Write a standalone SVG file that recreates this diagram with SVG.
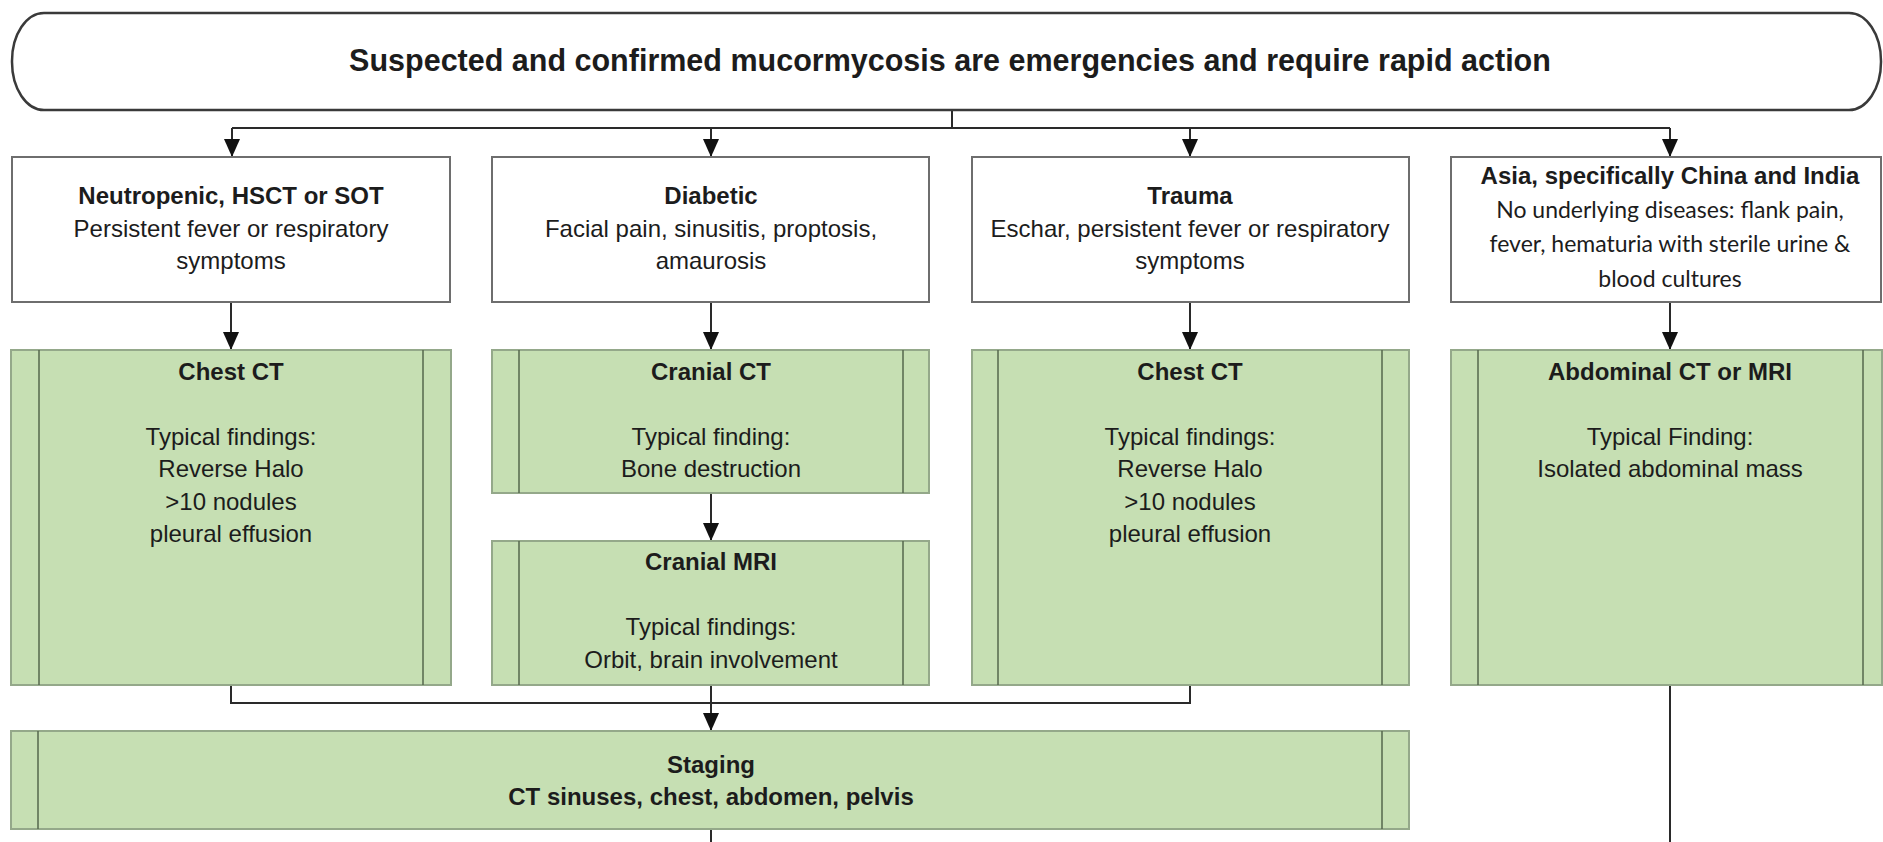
<svg xmlns="http://www.w3.org/2000/svg" width="1883" height="842" viewBox="0 0 1883 842">
<defs>
<style>
.bg{fill:#ffffff}
.term{fill:#ffffff;stroke:#3a3a3a;stroke-width:2.5}
.wbox{fill:#ffffff;stroke:#6e6e6e;stroke-width:2}
.gbox{fill:#c6dfb3;stroke:#94a88a;stroke-width:2}
.gline{stroke:#56684d;stroke-width:1.5;fill:none}
.con{stroke:#2a2a2a;stroke-width:2;fill:none}
.t{font-family:"Liberation Sans",Arial,sans-serif;font-size:24px;fill:#1c1c1c;text-anchor:middle}
.b{font-weight:bold}
.title{font-family:"Liberation Sans",Arial,sans-serif;font-size:30.5px;font-weight:bold;fill:#1c1c1c;text-anchor:middle}
.c{font-family:Lato,"Liberation Sans",sans-serif;font-size:23px;fill:#1c1c1c;text-anchor:middle}
</style>
<marker id="arr" viewBox="0 0 18 16" refX="18" refY="8" markerWidth="18" markerHeight="16" markerUnits="userSpaceOnUse" orient="auto">
<path d="M0,0 L18,8 L0,16 Z" fill="#111"/>
</marker>
</defs>
<rect class="bg" x="0" y="0" width="1883" height="842"/>

<g id="connectors">
<path class="con" d="M952,110 V128"/>
<path class="con" d="M232,128 H1670"/>
<path class="con" d="M232,128 V157" marker-end="url(#arr)"/>
<path class="con" d="M711,128 V157" marker-end="url(#arr)"/>
<path class="con" d="M1190,128 V157" marker-end="url(#arr)"/>
<path class="con" d="M1670,128 V157" marker-end="url(#arr)"/>
<path class="con" d="M231,302 V350" marker-end="url(#arr)"/>
<path class="con" d="M711,302 V350" marker-end="url(#arr)"/>
<path class="con" d="M1190,302 V350" marker-end="url(#arr)"/>
<path class="con" d="M1670,302 V350" marker-end="url(#arr)"/>
<path class="con" d="M711,493 V541" marker-end="url(#arr)"/>
<path class="con" d="M231,685 V703 H1190 V685"/>
<path class="con" d="M711,685 V731" marker-end="url(#arr)"/>
<path class="con" d="M711,829 V842"/>
<path class="con" d="M1670,685 V842"/>
</g>

<g id="start">
<rect class="term" x="12" y="13" width="1869" height="97" rx="32" ry="48"/>
<text class="title" x="950" y="71">Suspected and confirmed mucormycosis are emergencies and require rapid action</text>
</g>

<g id="neutropenic">
<rect class="wbox" x="12" y="157" width="438" height="145"/>
<text class="t b" x="231" y="204">Neutropenic, HSCT or SOT</text>
<text class="t" x="231" y="237">Persistent fever or respiratory</text>
<text class="t" x="231" y="269">symptoms</text>
</g>

<g id="diabetic">
<rect class="wbox" x="492" y="157" width="437" height="145"/>
<text class="t b" x="711" y="204">Diabetic</text>
<text class="t" x="711" y="237">Facial pain, sinusitis, proptosis,</text>
<text class="t" x="711" y="269">amaurosis</text>
</g>

<g id="trauma">
<rect class="wbox" x="972" y="157" width="437" height="145"/>
<text class="t b" x="1190" y="204">Trauma</text>
<text class="t" x="1190" y="237">Eschar, persistent fever or respiratory</text>
<text class="t" x="1190" y="269">symptoms</text>
</g>

<g id="asia">
<rect class="wbox" x="1451" y="157" width="430" height="145"/>
<text class="t b" x="1670" y="184">Asia, specifically China and India</text>
<text class="c" x="1670" y="218">No underlying diseases: flank pain,</text>
<text class="c" x="1670" y="252">fever, hematuria with sterile urine &amp;</text>
<text class="c" x="1670" y="287">blood cultures</text>
</g>

<g id="chest-ct-1">
<rect class="gbox" x="11" y="350" width="440" height="335"/>
<path class="gline" d="M39,350 V685 M423,350 V685"/>
<text class="t b" x="231" y="380">Chest CT</text>
<text class="t" x="231" y="445">Typical findings:</text>
<text class="t" x="231" y="477">Reverse Halo</text>
<text class="t" x="231" y="510">&gt;10 nodules</text>
<text class="t" x="231" y="542">pleural effusion</text>
</g>

<g id="cranial-ct">
<rect class="gbox" x="492" y="350" width="437" height="143"/>
<path class="gline" d="M519,350 V493 M903,350 V493"/>
<text class="t b" x="711" y="380">Cranial CT</text>
<text class="t" x="711" y="445">Typical finding:</text>
<text class="t" x="711" y="477">Bone destruction</text>
</g>

<g id="cranial-mri">
<rect class="gbox" x="492" y="541" width="437" height="144"/>
<path class="gline" d="M519,541 V685 M903,541 V685"/>
<text class="t b" x="711" y="570">Cranial MRI</text>
<text class="t" x="711" y="635">Typical findings:</text>
<text class="t" x="711" y="668">Orbit, brain involvement</text>
</g>

<g id="chest-ct-2">
<rect class="gbox" x="972" y="350" width="437" height="335"/>
<path class="gline" d="M998,350 V685 M1382,350 V685"/>
<text class="t b" x="1190" y="380">Chest CT</text>
<text class="t" x="1190" y="445">Typical findings:</text>
<text class="t" x="1190" y="477">Reverse Halo</text>
<text class="t" x="1190" y="510">&gt;10 nodules</text>
<text class="t" x="1190" y="542">pleural effusion</text>
</g>

<g id="abdominal">
<rect class="gbox" x="1451" y="350" width="431" height="335"/>
<path class="gline" d="M1478,350 V685 M1863,350 V685"/>
<text class="t b" x="1670" y="380">Abdominal CT or MRI</text>
<text class="t" x="1670" y="445">Typical Finding:</text>
<text class="t" x="1670" y="477">Isolated abdominal mass</text>
</g>

<g id="staging">
<rect class="gbox" x="11" y="731" width="1398" height="98"/>
<path class="gline" d="M38,731 V829 M1382,731 V829"/>
<text class="t b" x="711" y="773">Staging</text>
<text class="t b" x="711" y="805">CT sinuses, chest, abdomen, pelvis</text>
</g>
</svg>
